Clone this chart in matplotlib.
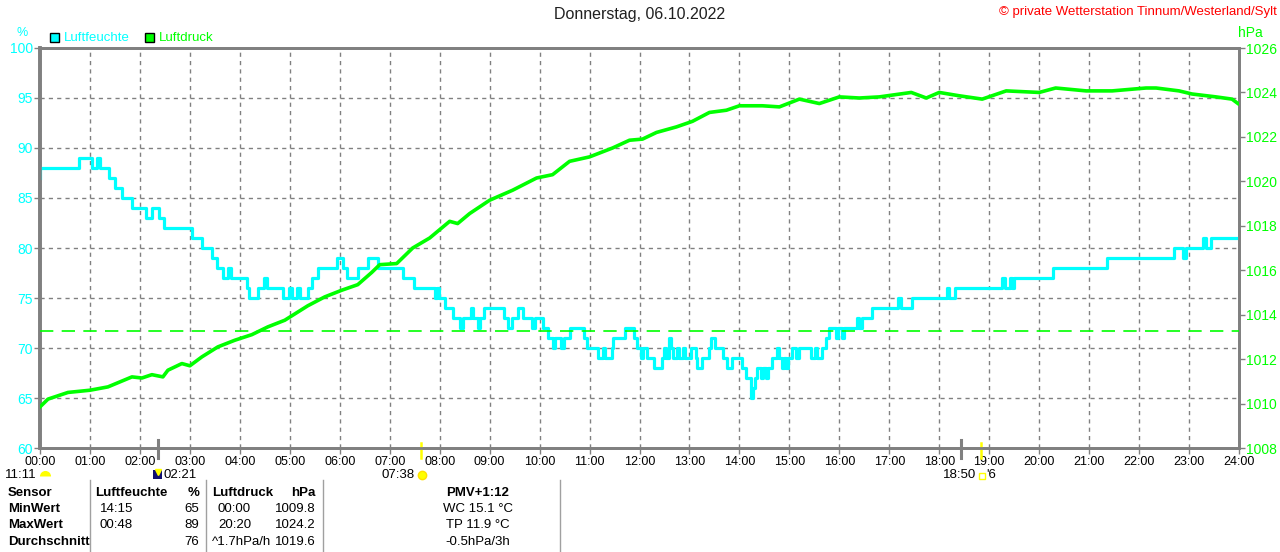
"""Wetterstation Tagesgrafik: Luftfeuchte und Luftdruck"""
import matplotlib
matplotlib.use('Agg')
import matplotlib.pyplot as plt
from matplotlib.patches import Rectangle
from matplotlib.lines import Line2D
import matplotlib.transforms as mtransforms

W, H = 1280, 552

TITLE = 'Donnerstag, 06.10.2022'
COPYRIGHT = '\u00a9 private Wetterstation Tinnum/Westerland/Sylt'

# Luftfeuchte (%) als Stufenverlauf: Zeitpunkt in Stunden, neuer Wert ab dort
hum_t = [0.00, 0.01, 0.78, 1.04, 1.14, 1.20, 1.38, 1.50, 1.64, 1.84,
         2.12, 2.24, 2.38, 2.48, 3.04, 3.24, 3.44, 3.54, 3.66, 3.76,
         3.82, 4.14, 4.18, 4.36, 4.48, 4.54, 4.86, 4.98, 5.04, 5.14,
         5.20, 5.36, 5.44, 5.56, 5.94, 6.06, 6.14, 6.36, 6.56, 6.76,
         7.26, 7.48, 7.90, 7.94, 7.98, 8.10, 8.26, 8.40, 8.46, 8.62,
         8.66, 8.76, 8.80, 8.88, 9.28, 9.36, 9.44, 9.56, 9.66, 9.84,
         9.90, 10.06, 10.16, 10.26, 10.30, 10.42, 10.48, 10.60, 10.88, 10.94,
         11.16, 11.26, 11.30, 11.44, 11.46, 11.70, 11.88, 11.94, 12.04, 12.08,
         12.16, 12.30, 12.46, 12.50, 12.54, 12.60, 12.64, 12.68, 12.76, 12.80,
         12.88, 12.92, 13.04, 13.14, 13.16, 13.26, 13.40, 13.44, 13.52, 13.68,
         13.76, 13.86, 14.06, 14.14, 14.24, 14.28, 14.32, 14.36, 14.44, 14.48,
         14.54, 14.58, 14.66, 14.76, 14.80, 14.86, 14.90, 14.94, 14.98, 15.06,
         15.14, 15.20, 15.44, 15.52, 15.56, 15.66, 15.74, 15.80, 15.94, 15.98,
         16.06, 16.10, 16.36, 16.40, 16.46, 16.66, 17.18, 17.24, 17.46, 18.16,
         18.20, 18.32, 19.26, 19.32, 19.42, 19.46, 19.50, 20.28, 21.36, 22.70,
         22.88, 22.94, 23.28, 23.34, 23.44, 24.00]
hum_v = [87, 88, 89, 88, 89, 88, 87, 86, 85, 84,
         83, 84, 83, 82, 81, 80, 79, 78, 77, 78,
         77, 76, 75, 76, 77, 76, 75, 76, 75, 76,
         75, 76, 77, 78, 79, 78, 77, 78, 79, 78,
         77, 76, 75, 76, 75, 74, 73, 72, 73, 74,
         73, 72, 73, 74, 73, 72, 73, 74, 73, 72,
         73, 72, 71, 70, 71, 70, 71, 72, 71, 70,
         69, 70, 69, 70, 71, 72, 71, 70, 69, 70,
         69, 68, 69, 70, 69, 71, 70, 69, 70, 69,
         70, 69, 70, 69, 68, 69, 70, 71, 70, 69,
         68, 69, 68, 67, 65, 66, 67, 68, 67, 68,
         67, 68, 69, 70, 69, 68, 69, 68, 69, 70,
         69, 70, 69, 70, 69, 70, 71, 72, 71, 72,
         71, 72, 73, 72, 73, 74, 75, 74, 75, 76,
         75, 76, 77, 76, 77, 76, 77, 78, 79, 80,
         79, 80, 81, 80, 81, 81]

# Luftdruck (hPa)
prs_t = [0.00, 0.16, 0.56, 1.00, 1.36, 1.84, 2.04, 2.24, 2.46, 2.56,
         2.84, 3.00, 3.24, 3.56, 3.90, 4.24, 4.56, 4.90, 5.36, 5.70,
         6.04, 6.36, 6.64, 6.80, 7.14, 7.46, 7.80, 8.20, 8.36, 8.60,
         9.00, 9.46, 9.94, 10.26, 10.60, 11.00, 11.46, 11.80, 12.06, 12.34,
         12.74, 13.06, 13.40, 13.74, 14.00, 14.46, 14.80, 15.20, 15.60, 16.00,
         16.40, 16.80, 17.44, 17.74, 18.00, 18.40, 18.86, 19.34, 20.00, 20.33,
         20.94, 21.46, 22.14, 22.34, 22.80, 23.06, 23.54, 23.86, 23.98]
prs_v = [1009.85, 1010.2, 1010.5, 1010.6, 1010.75, 1011.2, 1011.15, 1011.3, 1011.2, 1011.5,
         1011.8, 1011.7, 1012.1, 1012.55, 1012.85, 1013.1, 1013.45, 1013.75, 1014.4, 1014.8,
         1015.1, 1015.35, 1015.9, 1016.25, 1016.3, 1017.0, 1017.45, 1018.2, 1018.1, 1018.55,
         1019.15, 1019.6, 1020.15, 1020.3, 1020.9, 1021.1, 1021.5, 1021.85, 1021.9, 1022.2,
         1022.45, 1022.7, 1023.1, 1023.2, 1023.4, 1023.4, 1023.35, 1023.7, 1023.5, 1023.8,
         1023.75, 1023.8, 1024.0, 1023.75, 1024.0, 1023.85, 1023.7, 1024.07, 1024.0, 1024.2,
         1024.07, 1024.07, 1024.2, 1024.2, 1024.07, 1023.93, 1023.8, 1023.7, 1023.5]

NORMAL_PRESSURE = 1013.25

hour_labels = ['%02d:00' % h for h in range(25)]
hum_ticks = [60, 65, 70, 75, 80, 85, 90, 95, 100]
prs_ticks = [1008, 1010, 1012, 1014, 1016, 1018, 1020, 1022, 1024, 1026]

# Ereignisse unter der Zeitachse (Sonne / Mond)
moon_marks = [2.36, 18.44]
sun_marks = [7.63, 18.84]

# Tabelle unten
table_header = ['Sensor', 'Luftfeuchte', '%', 'Luftdruck', 'hPa', 'PMV+1:12']
table_rows = [
    ['MinWert', '14:15', '65', '00:00', '1009.8', 'WC 15.1 \u00b0C'],
    ['MaxWert', '00:48', '89', '20:20', '1024.2', 'TP 11.9 \u00b0C'],
    ['Durchschnitt', '', '76', '^1.7hPa/h', '1019.6', '-0.5hPa/3h'],
]

CYAN = '#00ffff'
GREEN = '#00ff00'
GREY = '#808080'
YELLOW = '#ffff00'

plt.rcParams['font.family'] = ['Liberation Sans', 'DejaVu Sans']
plt.rcParams['font.size'] = 9


def fx(x):
    return x / W


def fy(y):
    return 1 - y / H


def marker(x, y, **kw):
    fig.add_artist(Line2D([fx(x)], [fy(y)], transform=fig.transFigure, linestyle='none', **kw))


fig = plt.figure(figsize=(W / 100, H / 100), dpi=100)
ax = fig.add_axes([fx(40), fy(448), fx(1239) - fx(40), fy(48) - fy(448)])
ax2 = ax.twinx()

# Luftfeuchte
ax.step(hum_t, hum_v, where='post', color=CYAN, lw=2.3, zorder=4)
ax.set_xlim(0, 24)
ax.set_ylim(60, 100)
ax.set_xticks(range(25))
ax.set_xticklabels(hour_labels)
ax.set_yticks(hum_ticks)
ax.grid(True, color=GREY, linestyle=(0, (3, 3)), lw=1.0)
ax.tick_params(axis='x', colors=GREY, labelcolor='black', length=4, width=1, pad=2, labelsize=9)
ax.tick_params(axis='y', colors=GREY, labelcolor=CYAN, length=4, width=1, pad=1, labelsize=10)

# Luftdruck
ax2.plot(prs_t, prs_v, color=GREEN, lw=2.6, zorder=5)
ax2.axhline(NORMAL_PRESSURE, color=GREEN, lw=1.2, linestyle=(0, (8, 5)), zorder=3)
ax2.set_ylim(1008, 1026)
ax2.set_yticks(prs_ticks)
ax2.tick_params(axis='y', colors=GREY, labelcolor=GREEN, length=4, width=1, pad=1, labelsize=10)

for a in (ax, ax2):
    for name, sp in a.spines.items():
        sp.set_color(GREY)
        sp.set_linewidth(2.0)
    a.spines['left'].set_linewidth(2.6)

# Markierungen an der Zeitachse
trans = mtransforms.blended_transform_factory(ax.transData, ax.transAxes)
for t in moon_marks:
    ax.plot([t, t], [0.02, -0.025], color=GREY, lw=2.2, transform=trans, clip_on=False, zorder=6)
for t in sun_marks:
    ax.plot([t, t], [0.012, -0.025], color=YELLOW, lw=1.8, transform=trans, clip_on=False, zorder=6)

# Beschriftungen oben
fig.text(0.5, fy(15), TITLE, ha='center', va='center', fontsize=11.5, color='#202020')
fig.text(fx(1277), fy(12), COPYRIGHT, ha='right', va='center', fontsize=9.5, color='#ff0000')
fig.text(fx(22), fy(33), '%', ha='center', va='center', fontsize=9, color=CYAN)
fig.text(fx(1250), fy(33), 'hPa', ha='center', va='center', fontsize=10, color=GREEN)

fig.add_artist(Rectangle((fx(50), fy(42)), 9 / W, 9 / H, transform=fig.transFigure,
                         facecolor=CYAN, edgecolor='black', lw=1))
fig.text(fx(64), fy(38), 'Luftfeuchte', ha='left', va='center', fontsize=9.5, color=CYAN)
fig.add_artist(Rectangle((fx(145), fy(42)), 9 / W, 9 / H, transform=fig.transFigure,
                         facecolor=GREEN, edgecolor='black', lw=1))
fig.text(fx(159), fy(38), 'Luftdruck', ha='left', va='center', fontsize=9.5, color=GREEN)

# Ereigniszeiten unter der Achse
fig.text(fx(37), fy(475), '11:11', ha='right', va='center', fontsize=9.5)
marker(45, 476, marker='o', markersize=8, fillstyle='top', markerfacecolor=YELLOW,
       markerfacecoloralt='none', markeredgecolor='none')
fig.add_artist(Rectangle((fx(153), fy(479)), 9 / W, 9 / H, transform=fig.transFigure,
                         facecolor='#101070', edgecolor='none'))
marker(157.5, 472, marker='v', markersize=5, color=YELLOW)
fig.text(fx(163), fy(475), '02:21', ha='left', va='center', fontsize=9.5)
fig.text(fx(415), fy(475), '07:38', ha='right', va='center', fontsize=9.5)
marker(422, 475, marker='o', markersize=6, markerfacecolor=YELLOW, markeredgecolor='#ffe000')
fig.text(fx(976), fy(475), '18:50', ha='right', va='center', fontsize=9.5)
marker(982, 476, marker='s', markersize=4, markerfacecolor='white', markeredgecolor=YELLOW,
       markeredgewidth=1)
fig.text(fx(986), fy(475), "'6", ha='left', va='center', fontsize=9.5)

# Tabelle
for x in (90, 206, 323, 560):
    fig.add_artist(Line2D([fx(x), fx(x)], [fy(480), fy(552)], transform=fig.transFigure,
                          color='#a0a0a0', lw=1))

col_x = [8, 95, 199, 212, 316, 478]
col_ha = ['left', 'left', 'right', 'left', 'right', 'center']
row_y = [493, 509, 525, 542]
for x, ha, txt in zip(col_x, col_ha, table_header):
    fig.text(fx(x), fy(row_y[0]), txt, ha=ha, va='center', fontsize=9.5, fontweight='bold')
val_x = [8, 100, 199, 218, 316, 478]
for y, row in zip(row_y[1:], table_rows):
    for i, (x, ha, txt) in enumerate(zip(val_x, col_ha, row)):
        if i == 3 and txt.startswith('^'):
            x = 212
        fig.text(fx(x), fy(y), txt, ha=ha, va='center', fontsize=9.5,
                 fontweight='bold' if i == 0 else 'normal')

fig.savefig('out.png', dpi=100)
